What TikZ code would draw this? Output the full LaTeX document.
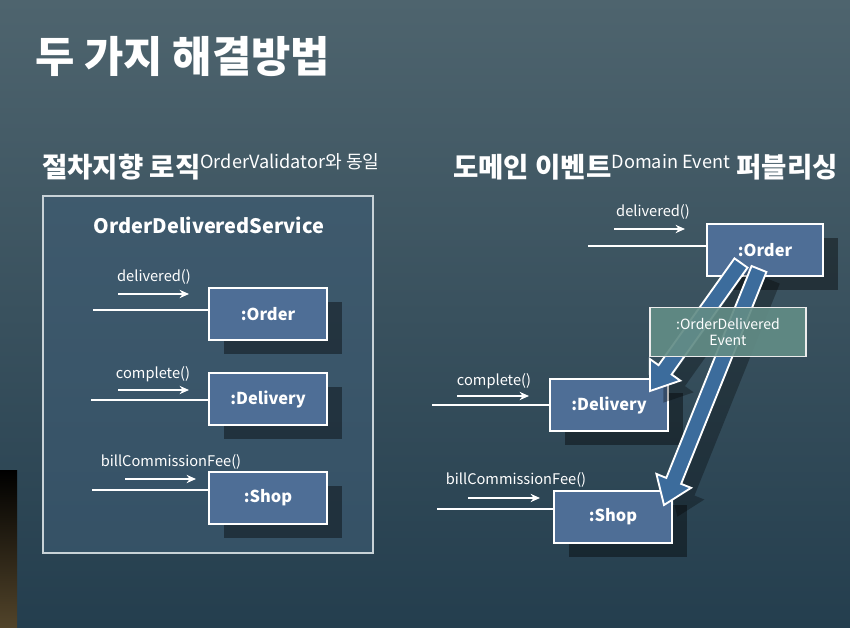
\documentclass[tikz,border=0pt]{standalone}
\usepackage{fontspec}
\setmainfont{Noto Sans CJK KR}
\usetikzlibrary{calc,shadows,arrows.meta}

\definecolor{bgtop}{RGB}{78,100,110}
\definecolor{bgmid}{RGB}{48,78,94}
\definecolor{bgbot}{RGB}{36,62,78}
\definecolor{objblue}{RGB}{78,110,150}
\definecolor{svcfill}{RGB}{62,92,116}
\definecolor{evtfill}{RGB}{98,140,134}
\definecolor{flowblue}{RGB}{60,108,156}
\definecolor{edgegray}{RGB}{200,210,215}

\tikzset{
  obj/.style={draw=white, line width=1.4pt, fill=objblue, text=white,
    font=\bfseries\fontsize{14}{14}\selectfont,
    minimum width=3.54cm, minimum height=1.56cm, inner sep=0pt,
    drop shadow={shadow xshift=0.45cm, shadow yshift=-0.42cm, opacity=0.4, fill=black}},
  msg/.style={text=white, font=\fontsize{12.5}{13}\selectfont, inner sep=0pt},
  call/.style={white, line width=1.3pt, -{Stealth[length=8pt,width=7pt]}},
  wire/.style={white, line width=1.3pt},
  flow/.style={draw=white, line width=1.6pt, fill=flowblue, line join=miter,
    drop shadow={shadow xshift=0.4cm, shadow yshift=-0.35cm, opacity=0.3, fill=black}},
  head/.style={anchor=base west, text=white, inner sep=0pt,
    font=\bfseries\fontsize{23.5}{24}\selectfont}
}
\newcommand{\headsup}[1]{\raisebox{8pt}{\mdseries\fontsize{15.5}{16}\selectfont #1}}

\begin{document}
\begin{tikzpicture}[x=0.03cm,y=-0.03cm]
  % background
  \fill[top color=bgtop, middle color=bgmid, bottom color=bgbot] (0,0) rectangle (850,628);
  \fill[top color=black, bottom color={rgb,255:red,82;green,68;blue,42}] (0,470) rectangle (17,628);
  \useasboundingbox (0,0) rectangle (850,628);

  % headings
  \node[anchor=west, text=white, font=\bfseries\fontsize{36.5}{37}\selectfont] (title) at (31,57) {두 가지 해결방법};
  \node[head] (left head) at (42,178) {절차지향 로직\headsup{OrderValidator와 동일}};
  \node[head] (right head) at (453,178) {도메인 이벤트\headsup{Domain Event} 퍼블리싱};

  % procedural side
  \node[draw=edgegray, line width=1.8pt, fill=svcfill, fill opacity=0.6,
    minimum width=9.9cm, minimum height=10.7cm] (svc) at (208,374.5) {};
  \node[text=white, font=\bfseries\fontsize{17}{17}\selectfont] (svc title) at (209,225) {OrderDeliveredService};

  \node[obj] (order) at (268,314) {:Order};
  \node[obj] (delivery) at (268,399) {:Delivery};
  \node[obj] (shop) at (268,498) {:Shop};

  \node[msg] (m1) at (154,277) {delivered()};
  \coordinate (a1) at (118,294); \coordinate (b1) at (189,294);
  \draw[call] (a1) -- (b1);
  \coordinate (w1) at (93,310);
  \draw[wire] (w1) -- (w1 -| order.west);

  \node[msg] (m2) at (153,374) {complete()};
  \coordinate (a2) at (118,390); \coordinate (b2) at (189,390);
  \draw[call] (a2) -- (b2);
  \coordinate (w2) at (91,400);
  \draw[wire] (w2) -- (w2 -| delivery.west);

  \node[msg] (m3) at (171,462) {billCommissionFee()};
  \coordinate (a3) at (125,479); \coordinate (b3) at (196,479);
  \draw[call] (a3) -- (b3);
  \coordinate (w3) at (92,490);
  \draw[wire] (w3) -- (w3 -| shop.west);

  % event side
  \node[obj, minimum width=3.48cm] (ev order) at (765,250) {:Order};
  \node[obj] (ev delivery) at (609,405) {:Delivery};
  \node[obj] (ev shop) at (613,517) {:Shop};

  \node[msg] (n1) at (653,212) {delivered()};
  \coordinate (c1) at (614,229); \coordinate (d1) at (685,229);
  \draw[call] (c1) -- (d1);
  \coordinate (v1) at (588,246);
  \draw[wire] (v1) -- (v1 -| ev order.west);

  \node[msg] (n2) at (494,381) {complete()};
  \coordinate (c2) at (457,396); \coordinate (d2) at (529,396);
  \draw[call] (c2) -- (d2);
  \coordinate (v2) at (432,405);
  \draw[wire] (v2) -- (v2 -| ev delivery.west);

  \node[msg] (n3) at (516,480) {billCommissionFee()};
  \coordinate (c3) at (468,498); \coordinate (d3) at (540,498);
  \draw[call] (c3) -- (d3);
  \coordinate (v3) at (437,509);
  \draw[wire] (v3) -- (v3 -| ev shop.west);

  % published event flows
  \coordinate (fs1) at (741,263); \coordinate (ft1) at (650,391);
  \coordinate (fs2) at (759,269); \coordinate (ft2) at (664,505);
  \foreach \s/\t in {fs1/ft1, fs2/ft2} {
    \coordinate (hb) at ($(\t)!0.78cm!(\s)$);
    \path[flow] ($(\s)!0.24cm!90:(\t)$) -- ($(hb)!0.24cm!-90:(\s)$)
      -- ($(hb)!0.56cm!-90:(\s)$) -- (\t) -- ($(hb)!0.56cm!90:(\s)$)
      -- ($(hb)!0.24cm!90:(\s)$) -- ($(\s)!0.24cm!-90:(\t)$) -- cycle;
  }

  \node[draw=white!85!gray, line width=1.4pt, fill=evtfill, fill opacity=0.92, text opacity=1,
    text=white, font=\fontsize{12}{14}\selectfont, align=center,
    minimum width=4.68cm, minimum height=1.47cm] (event) at (728,332) {:OrderDelivered\\Event};
\end{tikzpicture}
\end{document}
